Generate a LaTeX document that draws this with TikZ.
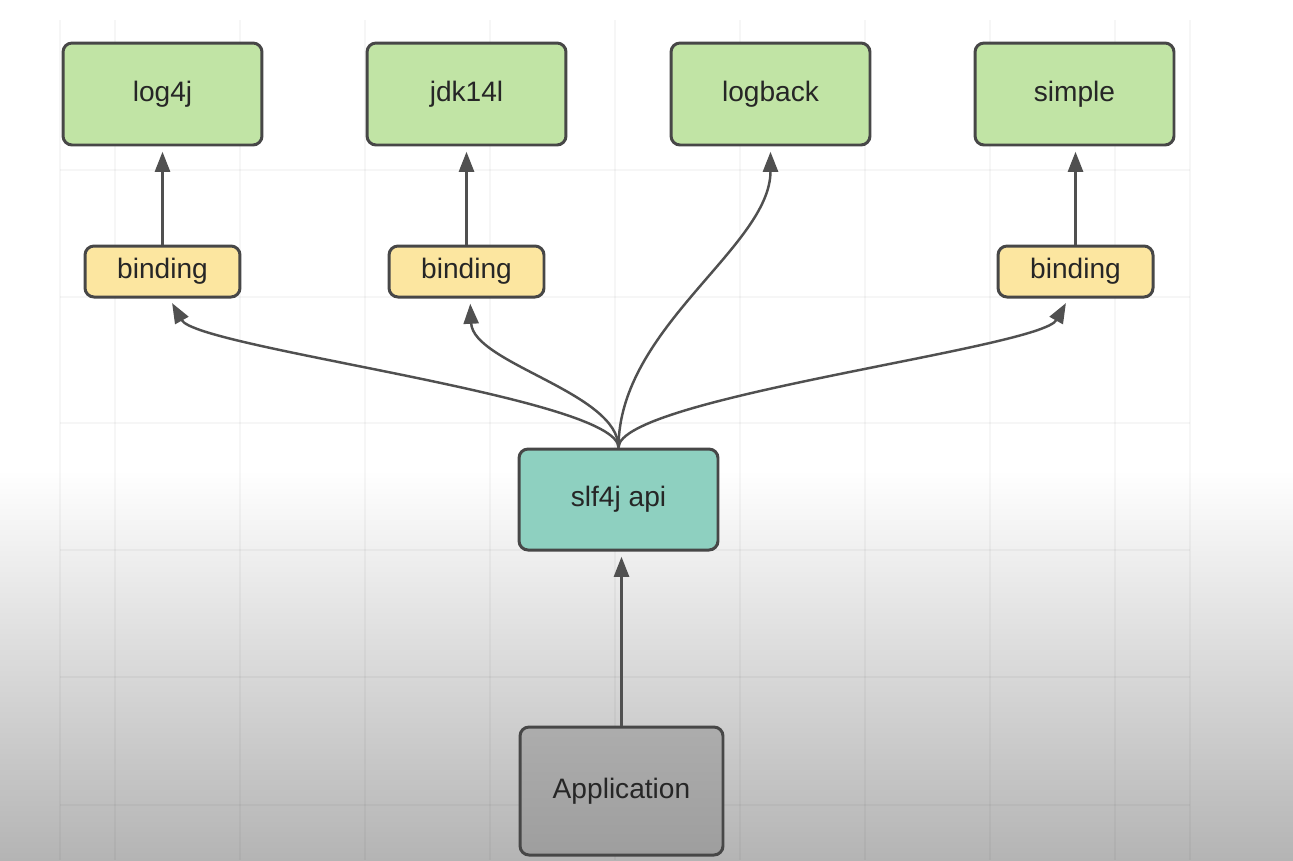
\documentclass[tikz,border=0pt]{standalone}
\usepackage{fontspec}
\setmainfont{Liberation Sans}
\usetikzlibrary{arrows.meta}
\definecolor{implgreen}{HTML}{C1E4A5}
\definecolor{bindyellow}{HTML}{FCE6A0}
\definecolor{apiteal}{HTML}{8ED0C0}
\definecolor{appgray}{HTML}{9E9E9E}
\definecolor{edgegray}{HTML}{474747}
\definecolor{arrowgray}{HTML}{505050}
\definecolor{bottomgray}{HTML}{B4B4B4}
\begin{document}
\begin{tikzpicture}[
    x=0.02cm, y=-0.02cm,
    box/.style={draw=edgegray, line width=1.7pt, rounded corners=0.18cm, align=center, text=black!85, font=\fontsize{16}{19}\selectfont},
    impl/.style={box, fill=implgreen, minimum width=3.98cm, minimum height=2.04cm},
    binding/.style={box, fill=bindyellow, minimum width=3.1cm, minimum height=1.02cm},
    arrow/.style={-{Triangle[length=0.4cm, width=0.3cm, fill=arrowgray]}, line width=1.4pt, draw=arrowgray, shorten >=3pt},
    gridline/.style={draw=black, draw opacity=0.035, line width=0.8pt}
]
\useasboundingbox (0,0) rectangle (1293,860);
% background
\fill[white] (0,0) rectangle (1293,860);
\shade[top color=white, bottom color=bottomgray] (0,470) rectangle (1293,860);
\foreach \gx in {60,115,240,365,490,615,740,865,990,1115,1190}
  \draw[gridline] (\gx,20) -- (\gx,860);
\foreach \gy in {170,297,423,550,677,805}
  \draw[gridline] (60,\gy) -- (1190,\gy);

% logging implementations
\node[impl] (log4j) at (162.5, 94) {log4j};
\node[impl] (jdk) at (466.5, 94) {jdk14l};
\node[impl] (logback) at (770.5, 94) {logback};
\node[impl] (simple) at (1074.5, 94) {simple};

% bindings
\node[binding] (bind_log4j) at (162.5, 271.5) {binding};
\node[binding] (bind_jdk) at (466.5, 271.5) {binding};
\node[binding] (bind_simple) at (1075.5, 271.5) {binding};

% api and application
\node[box, fill=apiteal, minimum width=3.98cm, minimum height=2.02cm] (api) at (618.5, 499.5) {slf4j api};
\node[box, top color=appgray!85, bottom color=appgray, minimum width=4.06cm, minimum height=2.56cm] (app) at (621.5, 791) {Application};

% straight arrows
\draw[arrow] (bind_log4j.north) -- (log4j.south);
\draw[arrow] (bind_jdk.north) -- (jdk.south);
\draw[arrow] (bind_simple.north) -- (bind_simple.north |- simple.south);
\draw[arrow] (app.north) -- (app.north |- api.south);

% curved arrows from the api
\draw[arrow] (api.north) .. controls +(0,-50) and +(28,50) .. ([xshift=4pt]bind_log4j.south);
\draw[arrow] (api.north) .. controls +(0,-55) and +(3,65) .. ([xshift=2pt]bind_jdk.south);
\draw[arrow] (api.north) .. controls +(0,-120) and +(0,100) .. (logback.south);
\draw[arrow] (api.north) .. controls +(0,-50) and +(-28,50) .. ([xshift=-4pt]bind_simple.south);
\end{tikzpicture}
\end{document}
